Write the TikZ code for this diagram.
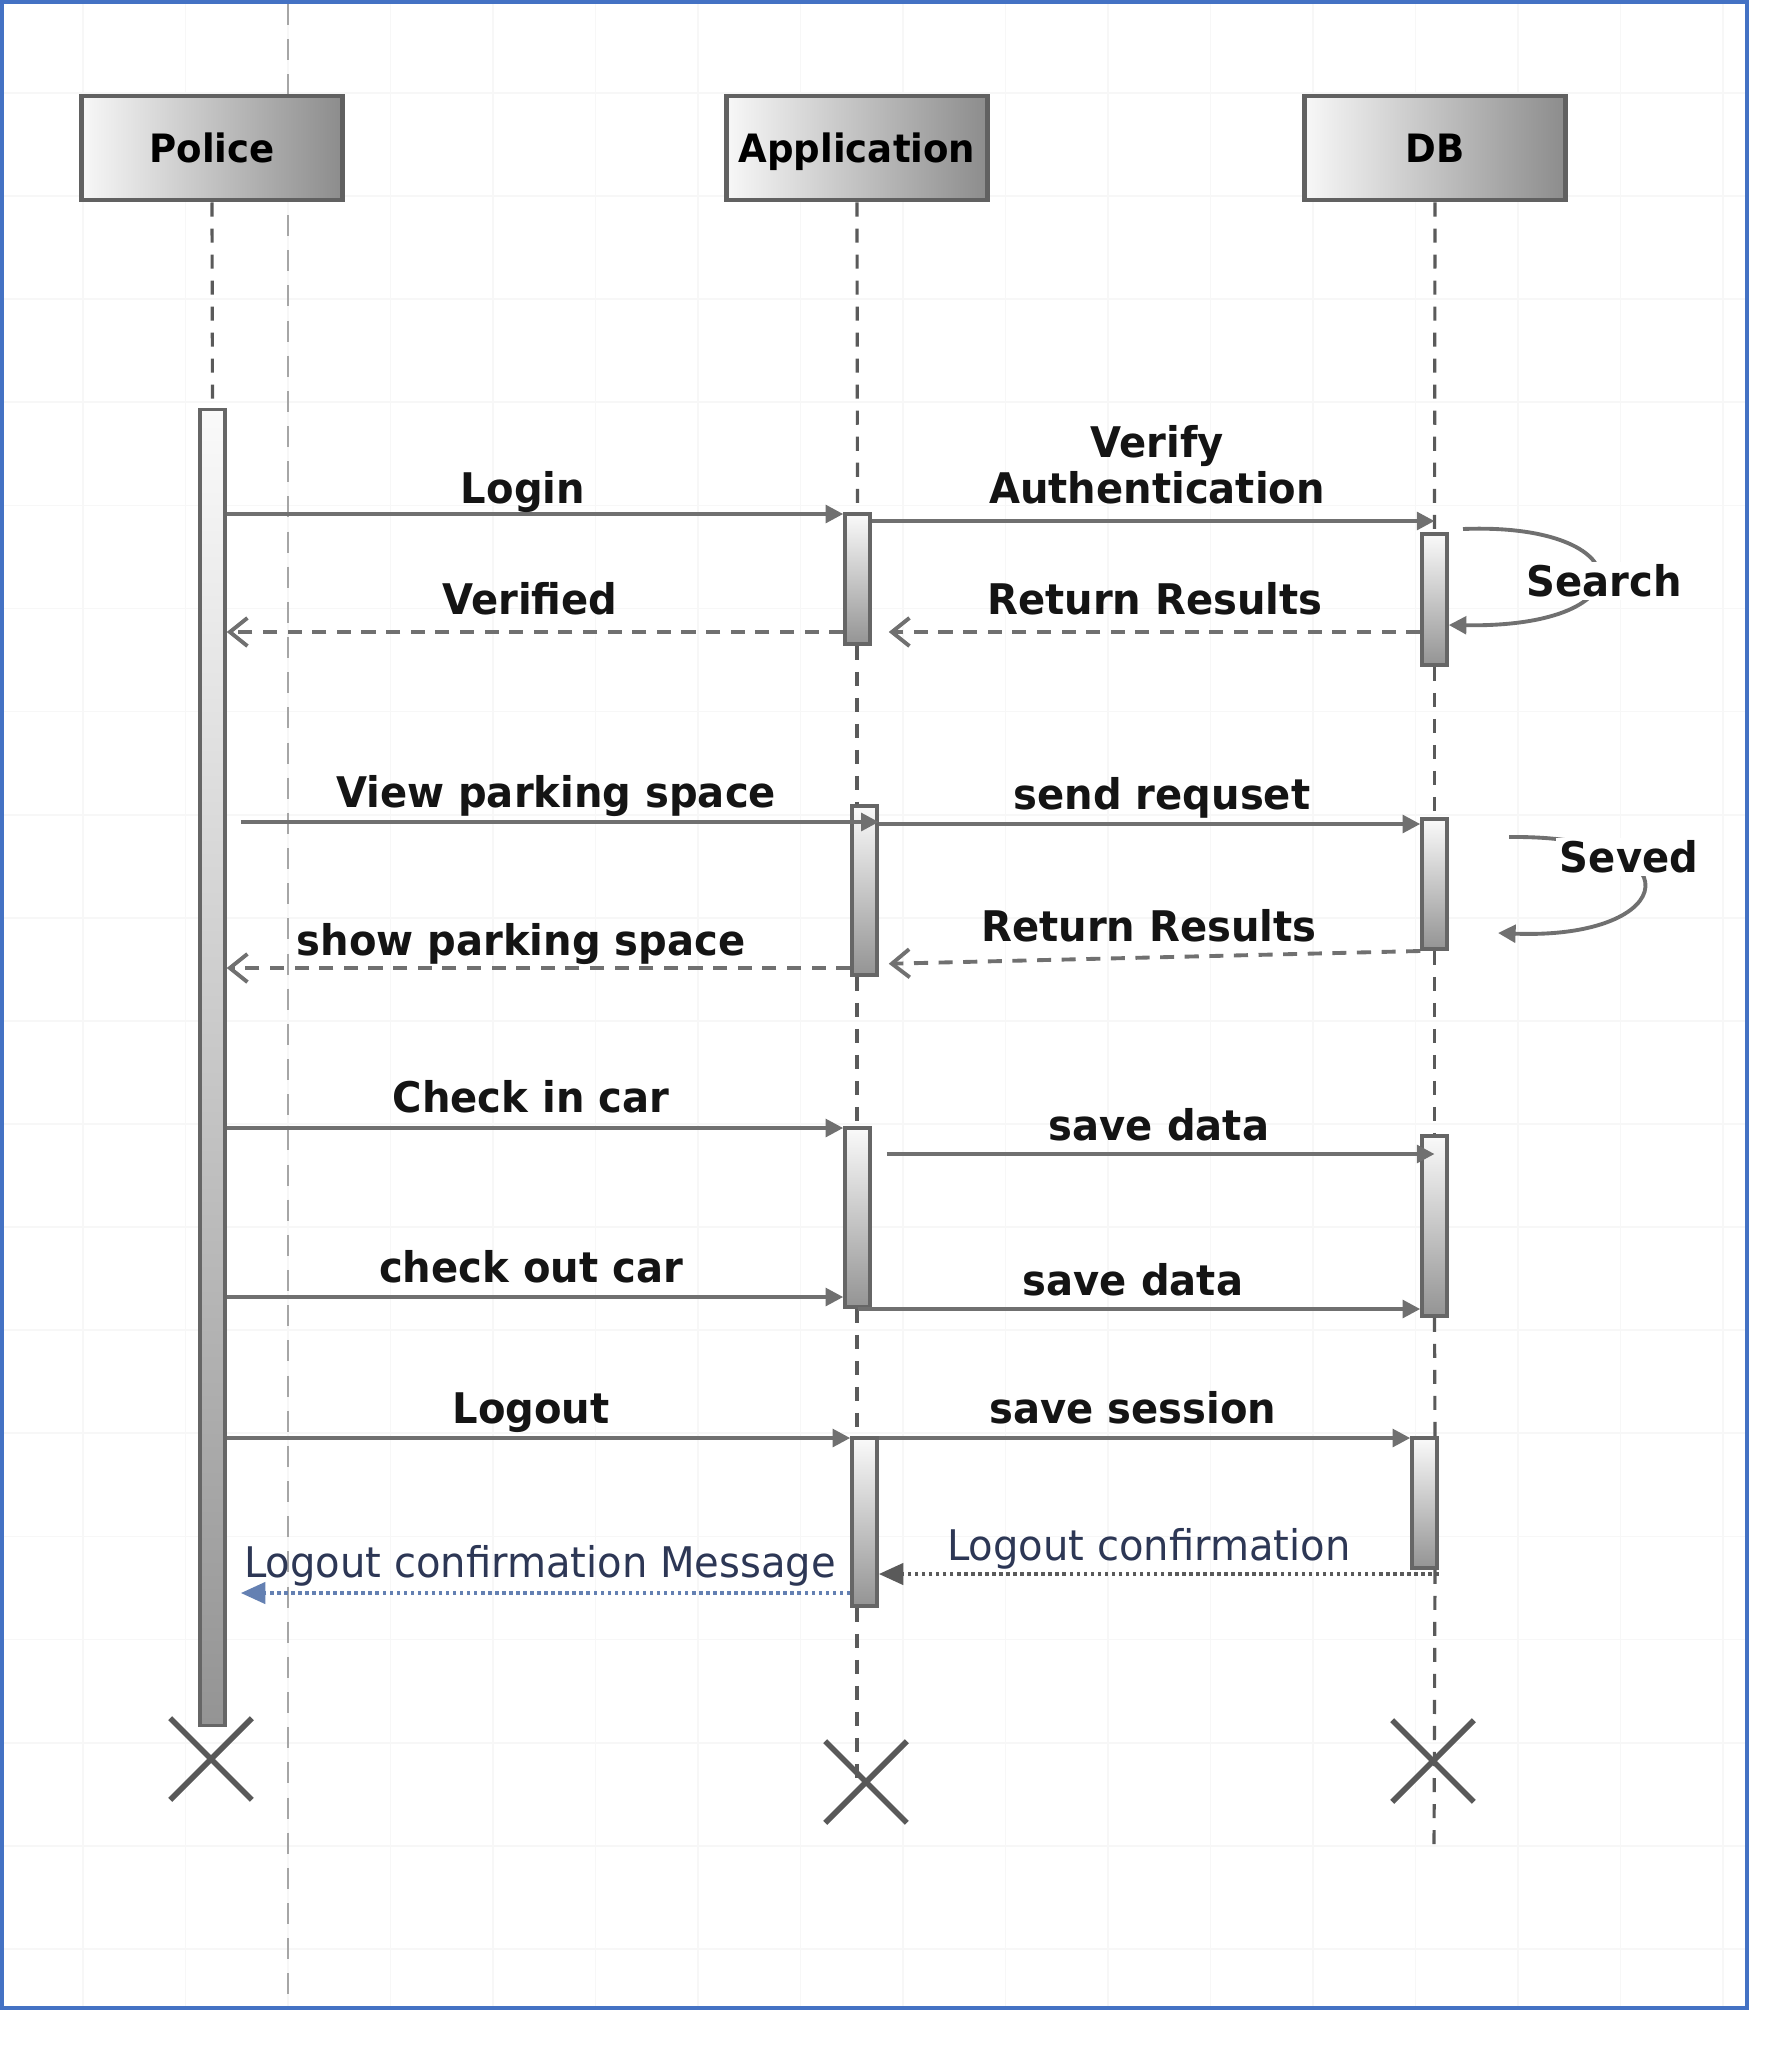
\documentclass[tikz,border=0pt]{standalone}
\usepackage{fontspec}
\setmainfont{DejaVu Sans}[FakeStretch=0.95]
\usetikzlibrary{arrows.meta,shapes.misc}

\definecolor{frameblue}{RGB}{68,114,196}
\definecolor{linegray}{RGB}{112,112,112}
\definecolor{lifegray}{RGB}{90,90,90}
\definecolor{msgblue}{RGB}{100,128,178}
\definecolor{notetext}{RGB}{45,55,85}

\begin{document}
\begin{tikzpicture}[x=0.01cm, y=-0.01cm,
  gridline/.style={black!3, line width=0.5pt},
  guide/.style={black!35, line width=0.8pt, dash pattern=on 6pt off 4pt},
  frame/.style={draw=frameblue, line width=1.3pt},
  headbox/.style={draw=black!62, line width=1.4pt, left color=black!3, right color=black!45,
    minimum width=2.6cm, minimum height=1.04cm, inner sep=0pt,
    text height=8.2pt, text depth=0pt,
    font=\fontsize{11.1}{13}\selectfont\bfseries},
  actbar/.style={draw=black!60, line width=1pt, top color=black!2, bottom color=black!42,
    minimum width=0.25cm, inner sep=0pt},
  lifeline/.style={lifegray, line width=0.9pt, dash pattern=on 4pt off 3.4pt},
  endx/.style={draw=black!65, cross out, line width=1.6pt, minimum size=0.76cm, inner sep=0pt},
  msg/.style={linegray, line width=1.1pt, -{Triangle[length=5pt,width=5pt]}},
  ret/.style={linegray, line width=1.1pt, dash pattern=on 4pt off 3pt,
    -{Straight Barb[length=5pt,width=8pt]}},
  conf/.style={lifegray, line width=1.2pt, dash pattern=on 1pt off 1pt,
    -{Triangle[length=7pt,width=6pt]}},
  confblue/.style={msgblue, line width=1.2pt, dash pattern=on 1pt off 1pt,
    -{Triangle[length=7pt,width=6pt]}},
  lblbase/.style={font=\fontsize{12}{13}\selectfont\bfseries, text=black!92, inner sep=1pt},
  lbl/.style={lblbase, text height=8.8pt, text depth=0pt},
  note/.style={font=\fontsize{12}{14}\selectfont, text=notetext, inner sep=1pt,
    text height=8.8pt, text depth=0pt}]

\useasboundingbox (0,0) rectangle (1773,2051);
\fill[white] (0,0) rectangle (1773,2051);

% faint page grid
\foreach \gx in {0,...,16}
  \draw[gridline] (83+102.5*\gx,4) -- (83+102.5*\gx,2006);
\foreach \gy in {0,...,18}
  \draw[gridline] (4,93+103.1*\gy) -- (1745,93+103.1*\gy);
\draw[guide] (288,4) -- (288,2006);
\draw[frame] (2,2) rectangle (1747,2008);

% lifeline heads
\node[headbox] (police) at (212,148) {Police};
\node[headbox] (application) at (857,148) {Application};
\node[headbox] (db) at (1435,148) {DB};

% end marks
\node[endx] (polx) at (211,1759) {};
\node[endx] (appx) at (866,1782) {};
\node[endx] (dbx) at (1433,1761) {};
\coordinate (dbend) at (1434,1852);

% activation bars
\node[actbar, minimum height=13.15cm] (pol) at (212.5,1067.5) {};
\node[actbar, minimum height=1.30cm] (app1) at (857.5,579) {};
\node[actbar, minimum height=1.31cm] (db1) at (1434.5,599.5) {};
\node[actbar, minimum height=1.69cm] (app2) at (864.5,890.5) {};
\node[actbar, minimum height=1.30cm] (db2) at (1434.5,884) {};
\node[actbar, minimum height=1.79cm] (app3) at (857.5,1217.5) {};
\node[actbar, minimum height=1.80cm] (db3) at (1434.5,1226) {};
\node[actbar, minimum height=1.68cm] (app4) at (864.5,1522) {};
\node[actbar, minimum height=1.30cm] (db4) at (1424.5,1503) {};

% lifelines between the bars
\draw[lifeline] (police.south) -- (pol.north);
\draw[lifeline] (application.south) -- (app1.north);
\draw[lifeline] (application |- app1.south) -- (application |- app2.north);
\draw[lifeline] (application |- app2.south) -- (application |- app3.north);
\draw[lifeline] (application |- app3.south) -- (application |- app4.north);
\draw[lifeline] (application |- app4.south) -- (application |- appx.center);
\draw[lifeline] (db.south) -- (db1.north);
\draw[lifeline] (db1.south) -- (db2.north);
\draw[lifeline] (db2.south) -- (db3.north);
\draw[lifeline] (db3.south) -- (db |- db4.north);
\draw[lifeline] (db |- db4.south) -- (dbend);

% messages
\draw[msg] (pol.east |- 0,514) -- (app1.west |- 0,514);
\draw[msg] (app1.east |- 0,521) -- (db1.north |- 0,521);
\draw[ret, shorten >=0.17cm] (db1.west |- 0,632) -- (app1.east |- 0,632);
\draw[ret] (app1.west |- 0,632) -- (pol.east |- 0,632);

\draw[msg, shorten <=0.14cm] (pol.east |- 0,822) -- (app2.east |- 0,822);
\draw[msg] (app2.east |- 0,824) -- (db2.west |- 0,824);
\draw[ret, shorten >=0.1cm] (db2.west |- 0,951) -- (app2.east |- 0,964);
\draw[ret] (app2.west |- 0,968) -- (pol.east |- 0,968);

\draw[msg] (pol.east |- 0,1128) -- (app3.west |- 0,1128);
\draw[msg, shorten <=0.15cm] (app3.east |- 0,1154) -- (db3 |- 0,1154);
\draw[msg] (pol.east |- 0,1297) -- (app3.west |- 0,1297);
\draw[msg] (app3 |- 0,1309) -- (db3.west |- 0,1309);

\draw[msg] (pol.east |- 0,1438) -- (app4.west |- 0,1438);
\draw[msg] (app4.east |- 0,1438) -- (db4.west |- 0,1438);
\draw[conf] (db4.east |- 0,1574) -- (app4.east |- 0,1574);
\draw[confblue, shorten >=0.14cm] (app4.west |- 0,1593) -- (pol.east |- 0,1593);

% self calls on DB
\coordinate (srch0) at (1463,529);
\draw[msg] (srch0) .. controls (1640,522) and (1650,628) .. (db1.east |- 0,625);
\coordinate (sev0) at (1509,837);
\coordinate (sev1) at (1498,933);
\draw[msg] (sev0) .. controls (1700,835) and (1680,940) .. (sev1);

% labels
\node[lbl] (tlogin) at (523,488) {Login};
\node[lblbase, align=center] (tverify) at (1157,465) {Verify\\Authentication};
\node[lbl, fill=white] (tsearch) at (1604,581) {Search};
\node[lbl] (tret1) at (1155,599) {Return Results};
\node[lbl] (tverified) at (530,599) {Verified};
\node[lbl] (tview) at (556,792) {View parking space};
\node[lbl] (tsend) at (1162,794) {send requset};
\node[lbl, fill=white] (tseved) at (1629,857) {Seved};
\node[lbl] (tret2) at (1149,926) {Return Results};
\node[lbl] (tshow) at (521,940) {show parking space};
\node[lbl] (tcin) at (531,1097) {Check in car};
\node[lbl] (tsave1) at (1159,1125) {save data};
\node[lbl] (tcout) at (531,1267) {check out car};
\node[lbl] (tsave2) at (1133,1280) {save data};
\node[lbl] (tlogout) at (531,1408) {Logout};
\node[lbl] (tsess) at (1133,1408) {save session};
\node[note] (tconf) at (1149,1545) {Logout confirmation};
\node[note] (tconfmsg) at (540,1562) {Logout confirmation Message};
\end{tikzpicture}
\end{document}
